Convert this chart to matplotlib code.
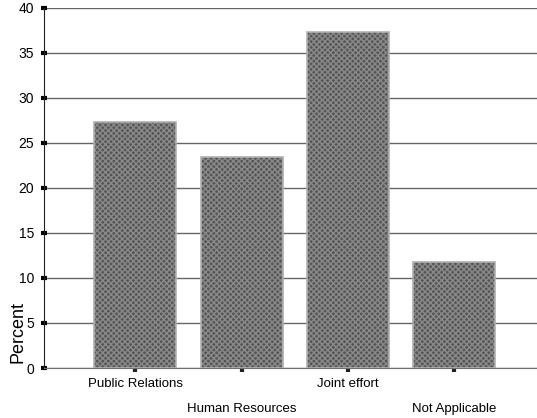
import matplotlib.pyplot as plt
from matplotlib.transforms import blended_transform_factory

plt.rcParams['font.family'] = ['Liberation Sans', 'DejaVu Sans']

# === DATA ====================================================================
categories = ["Public Relations", "Human Resources", "Joint effort", "Not Applicable"]
percent = [27.3, 23.4, 37.3, 11.8]
yticks = [0, 5, 10, 15, 20, 25, 30, 35, 40]

# === PLOT ====================================================================
fig = plt.figure(figsize=(5.37, 4.18), dpi=100)
ax = fig.add_axes([0.082, 0.1196, 0.918, 0.862])

x = list(range(len(categories)))
ax.bar(x, percent, width=0.77, color='#555555', hatch='xxxxxx',
       edgecolor='#8a8a8a', linewidth=0, zorder=2)
ax.bar(x, percent, width=0.77, fill=False, edgecolor='#b0b0b0',
       linewidth=1.2, zorder=3)

ax.set_xlim(-0.86, 3.78)
ax.set_ylim(0, 40)
ax.set_yticks(yticks)
ax.yaxis.grid(True, color='#666666', linewidth=1.0)
ax.set_axisbelow(True)

for s in ['top', 'right']:
    ax.spines[s].set_visible(False)
ax.spines['left'].set_color('#202020')
ax.spines['bottom'].set_color('#707070')

ax.tick_params(axis='y', direction='inout', length=4, width=3, pad=5,
               labelsize=10, colors='black')
ax.tick_params(axis='x', direction='out', length=3, width=3, colors='#202020')
ax.set_xticks(x)
ax.set_xticklabels([])

# staggered category labels
tr = blended_transform_factory(ax.transData, ax.transAxes)
for i, name in enumerate(categories):
    yy = -0.045 if i % 2 == 0 else -0.115
    ax.text(i, yy, name, transform=tr, ha='center', va='center', fontsize=9.5)

fig.text(0.033, 0.205, "Percent", rotation=90, ha='center', va='center',
         fontsize=13)

fig.savefig("out.png", dpi=100)
